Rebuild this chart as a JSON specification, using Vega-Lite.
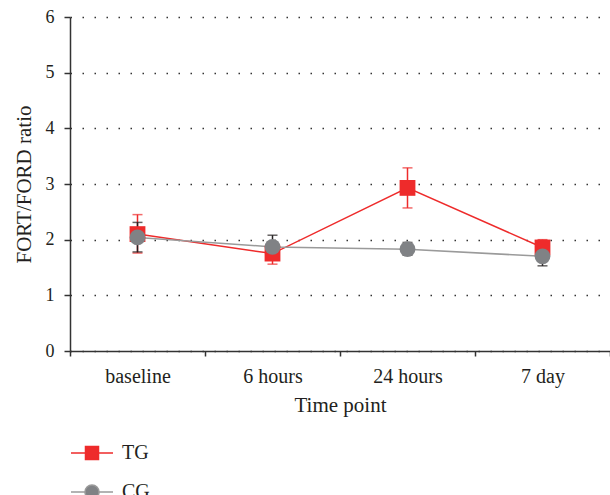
{
  "$schema": "https://vega.github.io/schema/vega-lite/v6.json",
  "autosize": "none",
  "padding": {"left": 70, "top": 17, "right": 0, "bottom": 144},
  "width": 540,
  "height": 334,
  "config": {
    "view": {"stroke": null},
    "font": "Liberation Serif",
    "axis": {"labelFont": "Liberation Serif", "titleFont": "Liberation Serif", "labelColor": "#231f20", "titleColor": "#231f20", "titleFontWeight": "normal", "domainColor": "#333333", "tickColor": "#333333", "domainWidth": 1.5, "tickWidth": 1.5}
  },
  "data": {
    "values": [
      {"group": "TG", "time": "baseline", "mean": 2.10, "lo": 1.76, "hi": 2.45},
      {"group": "TG", "time": "6 hours", "mean": 1.75, "lo": 1.56, "hi": 1.92},
      {"group": "TG", "time": "24 hours", "mean": 2.93, "lo": 2.57, "hi": 3.29},
      {"group": "TG", "time": "7 day", "mean": 1.86, "lo": 1.76, "hi": 2.0},
      {"group": "CG", "time": "baseline", "mean": 2.04, "lo": 1.78, "hi": 2.31},
      {"group": "CG", "time": "6 hours", "mean": 1.87, "lo": 1.70, "hi": 2.08},
      {"group": "CG", "time": "24 hours", "mean": 1.83, "lo": 1.72, "hi": 1.95},
      {"group": "CG", "time": "7 day", "mean": 1.70, "lo": 1.53, "hi": 1.86}
    ]
  },
  "encoding": {
    "x": {
      "field": "time", "type": "nominal", "sort": ["baseline", "6 hours", "24 hours", "7 day"],
      "scale": {"type": "band", "paddingInner": 0, "paddingOuter": 0},
      "axis": {"title": "Time point", "labelAngle": 0, "tickBand": "extent", "tickSize": 5, "labelPadding": 10, "titlePadding": 8, "grid": false, "labelFontSize": 20, "titleFontSize": 21}
    }
  },
  "layer": [
    {
      "mark": {"type": "line", "strokeWidth": 1.5},
      "encoding": {
        "y": {
          "field": "mean", "type": "quantitative",
          "scale": {"domain": [0, 6], "nice": false},
          "axis": {"title": "FORT/FORD ratio", "values": [0, 1, 2, 3, 4, 5, 6], "format": "d", "grid": true, "gridDash": [1.5, 10.5], "gridDashOffset": -12, "gridColor": "#333333", "gridWidth": 1.5, "tickSize": 6, "labelPadding": 10, "titlePadding": 11, "labelFontSize": 18, "titleFontSize": 21}
        },
        "color": {
          "field": "group", "type": "nominal",
          "scale": {"domain": ["TG", "CG"], "range": ["#ee2b2b", "#9a9a9a"]},
          "legend": {
            "orient": "none", "legendX": 11, "legendY": 425, "title": null, "padding": 0,
            "symbolSize": 400, "labelFontSize": 20, "labelFont": "Liberation Serif", "labelColor": "#231f20",
            "labelOffset": 19, "rowPadding": 18, "symbolStrokeWidth": 1.5,
            "encode": {
              "symbols": {
                "enter": {
                  "shape": {"signal": "datum.value === 'TG' ? 'M -2.1 0 L -0.65 0 M 0.65 0 L 2.1 0 M -0.65 -0.65 L 0.65 -0.65 L 0.65 0.65 L -0.65 0.65 Z' : 'M -2.1 0 L -0.7 0 M 0.7 0 L 2.1 0 M -0.7 0 A 0.7 0.7 0 1 0 0.7 0 A 0.7 0.7 0 1 0 -0.7 0 Z'"}
                },
                "update": {
                  "shape": {"signal": "datum.value === 'TG' ? 'M -2.1 0 L -0.65 0 M 0.65 0 L 2.1 0 M -0.65 -0.65 L 0.65 -0.65 L 0.65 0.65 L -0.65 0.65 Z' : 'M -2.1 0 L -0.7 0 M 0.7 0 L 2.1 0 M -0.7 0 A 0.7 0.7 0 1 0 0.7 0 A 0.7 0.7 0 1 0 -0.7 0 Z'"},
                  "fill": {"signal": "datum.value === 'TG' ? '#ee2b2b' : '#808285'"},
                  "stroke": {"signal": "datum.value === 'TG' ? '#ee2b2b' : '#9a9a9a'"},
                  "strokeWidth": {"value": 1.5},
                  "opacity": {"value": 1}
                }
              }
            }
          }
        }
      }
    },
    {
      "mark": {"type": "rule", "strokeWidth": 1.5},
      "encoding": {
        "y": {"field": "lo", "type": "quantitative"},
        "y2": {"field": "hi"},
        "color": {"condition": {"test": "datum.group === 'TG'", "value": "#ee2b2b"}, "value": "#231f20"}
      }
    },
    {
      "mark": {"type": "tick", "orient": "horizontal", "size": 10, "thickness": 1.5},
      "encoding": {
        "y": {"field": "lo", "type": "quantitative"},
        "color": {"condition": {"test": "datum.group === 'TG'", "value": "#ee2b2b"}, "value": "#231f20"}
      }
    },
    {
      "mark": {"type": "tick", "orient": "horizontal", "size": 10, "thickness": 1.5},
      "encoding": {
        "y": {"field": "hi", "type": "quantitative"},
        "color": {"condition": {"test": "datum.group === 'TG'", "value": "#ee2b2b"}, "value": "#231f20"}
      }
    },
    {
      "mark": {"type": "point", "filled": true, "opacity": 1, "size": 250},
      "encoding": {
        "y": {"field": "mean", "type": "quantitative"},
        "shape": {"condition": {"test": "datum.group === 'TG'", "value": "square"}, "value": "circle"},
        "color": {"condition": {"test": "datum.group === 'TG'", "value": "#ee2b2b"}, "value": "#808285"}
      }
    }
  ]
}
